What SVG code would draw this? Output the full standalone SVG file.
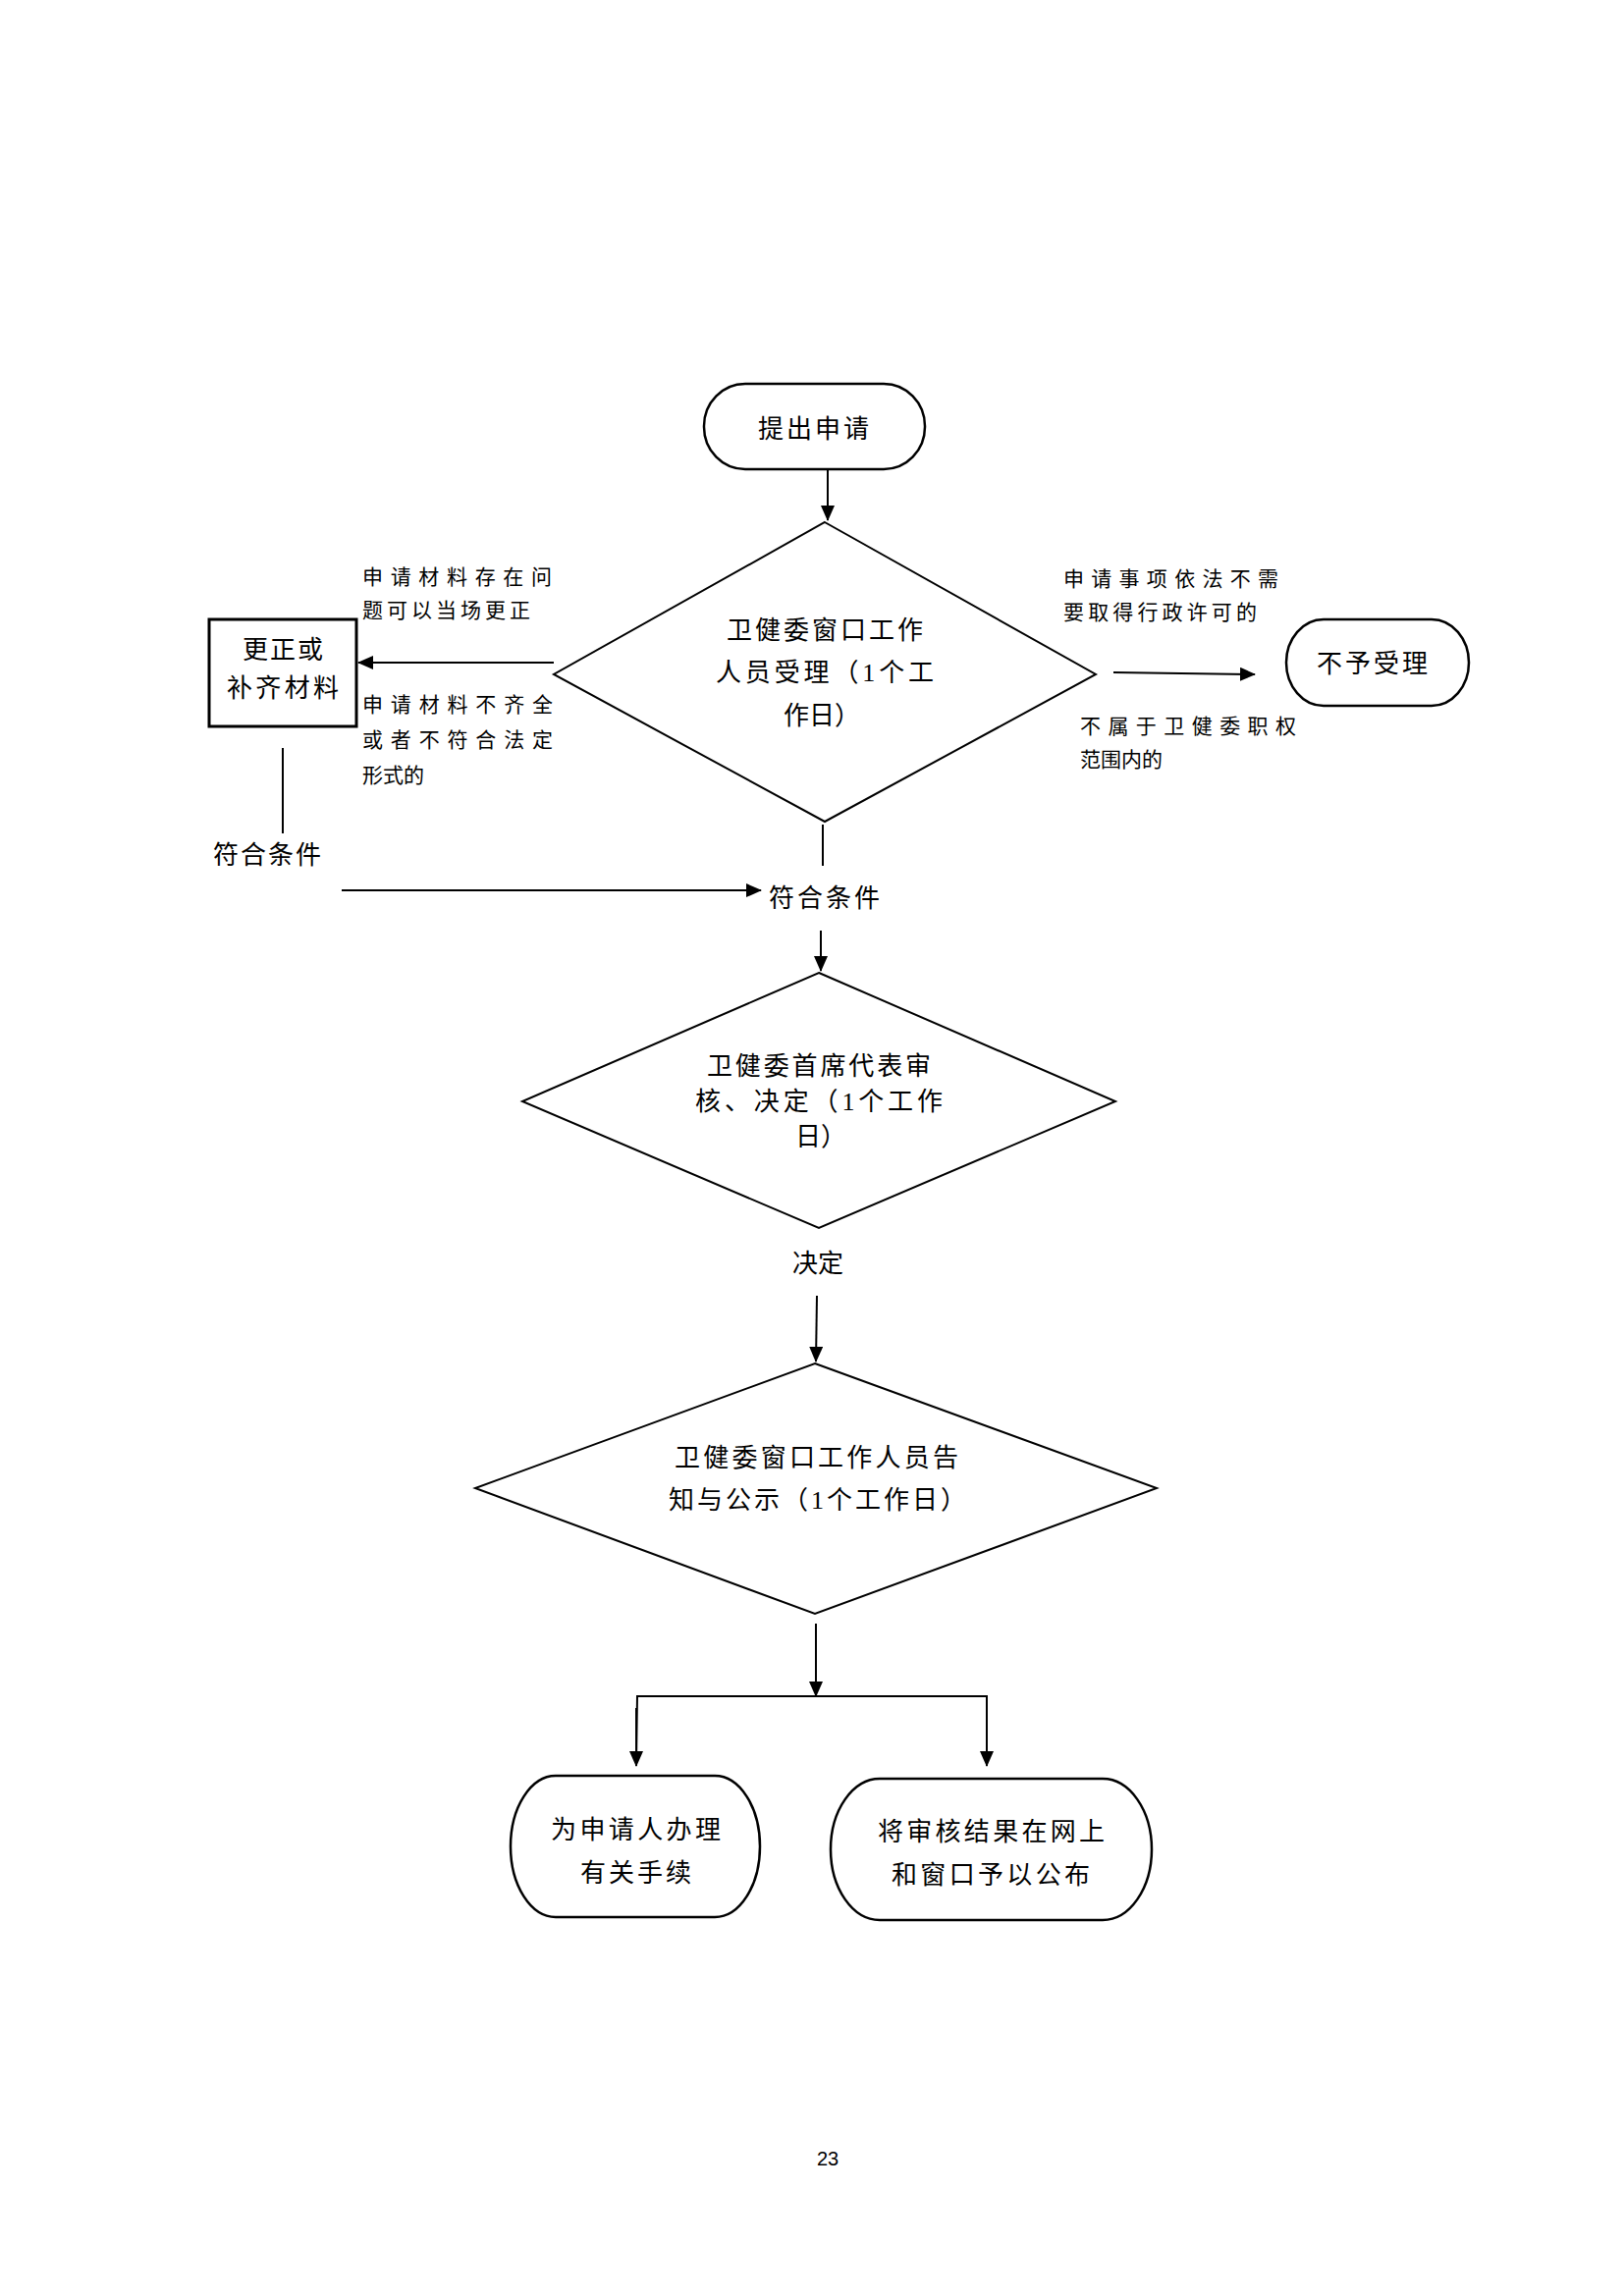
<svg xmlns="http://www.w3.org/2000/svg" width="1654" height="2339" viewBox="0 0 1654 2339">
<style>
.t{font-family:"Liberation Serif","Noto Sans CJK SC",serif;font-size:26px;fill:#000}
.s{font-family:"Liberation Serif","Noto Sans CJK SC",serif;font-size:21px;fill:#000}
.n{fill:#fff;stroke:#000;stroke-width:2}
.p{fill:#fff;stroke:#000;stroke-width:2.5}
.c{fill:none;stroke:#000;stroke-width:2}
.pg{font-family:"Liberation Sans",sans-serif;font-size:20px;fill:#000}
</style>
<defs>
<marker id="ah" markerUnits="userSpaceOnUse" markerWidth="16" markerHeight="14" refX="15" refY="7" orient="auto">
<path d="M0,0 L16,7 L0,14 Z" fill="#000"/>
</marker>
</defs>
<rect width="1654" height="2339" fill="#fff"/>

<g id="connectors">
<line class="c" x1="843" y1="478" x2="843" y2="530" marker-end="url(#ah)"/>
<line class="c" x1="564" y1="675" x2="365" y2="675" marker-end="url(#ah)"/>
<line class="c" x1="1134" y1="685" x2="1278" y2="687" marker-end="url(#ah)"/>
<line class="c" x1="288" y1="762" x2="288" y2="849"/>
<line class="c" x1="348" y1="907" x2="775" y2="907" marker-end="url(#ah)"/>
<line class="c" x1="838" y1="840" x2="838" y2="882"/>
<line class="c" x1="836" y1="948" x2="836" y2="989" marker-end="url(#ah)"/>
<line class="c" x1="832" y1="1320" x2="831" y2="1387" marker-end="url(#ah)"/>
<line class="c" x1="831" y1="1654" x2="831" y2="1728" marker-end="url(#ah)"/>
<polyline class="c" points="648,1798 649,1728 1005,1728 1005,1798"/>
<line class="c" x1="648" y1="1740" x2="648" y2="1799" marker-end="url(#ah)"/>
<line class="c" x1="1005" y1="1740" x2="1005" y2="1799" marker-end="url(#ah)"/>
<text class="s" x="369" y="595" textLength="193" lengthAdjust="spacing">申请材料存在问</text>
<text class="s" x="369" y="629" textLength="171" lengthAdjust="spacing">题可以当场更正</text>
<text class="s" x="369" y="725" textLength="194" lengthAdjust="spacing">申请材料不齐全</text>
<text class="s" x="369" y="761" textLength="194" lengthAdjust="spacing">或者不符合法定</text>
<text class="s" x="369" y="797">形式的</text>
<text class="s" x="1083" y="597" textLength="219" lengthAdjust="spacing">申请事项依法不需</text>
<text class="s" x="1083" y="631" textLength="197" lengthAdjust="spacing">要取得行政许可的</text>
<text class="s" x="1100" y="747" textLength="220" lengthAdjust="spacing">不属于卫健委职权</text>
<text class="s" x="1100" y="781">范围内的</text>
<text class="t" x="217" y="880" textLength="110" lengthAdjust="spacing">符合条件</text>
<text class="t" x="783" y="924" textLength="113" lengthAdjust="spacing">符合条件</text>
<text class="t" x="807" y="1296">决定</text>
</g>

<g id="start">
<rect class="p" x="717" y="391" width="225" height="87" rx="42" ry="43"/>
<text class="t" x="772" y="446" textLength="113" lengthAdjust="spacing">提出申请</text>
</g>

<g id="accept">
<polygon class="n" points="840,532 1116,687 840,837 564,687"/>
<text class="t" x="740" y="651" textLength="200" lengthAdjust="spacing">卫健委窗口工作</text>
<text class="t" x="729" y="694" textLength="222" lengthAdjust="spacing">人员受理（1个工</text>
<text class="t" x="798" y="738">作日）</text>
</g>

<g id="correct">
<rect x="213" y="631" width="150" height="109" fill="#fff" stroke="#000" stroke-width="3"/>
<text class="t" x="247" y="671" textLength="82" lengthAdjust="spacing">更正或</text>
<text class="t" x="231" y="710" textLength="114" lengthAdjust="spacing">补齐材料</text>
</g>

<g id="reject">
<rect class="p" x="1310" y="631" width="186" height="88" rx="38" ry="44"/>
<text class="t" x="1341" y="685" textLength="113" lengthAdjust="spacing">不予受理</text>
</g>

<g id="review">
<polygon class="n" points="834,991 1136,1122 834,1251 532,1122"/>
<text class="t" x="720" y="1095" textLength="228" lengthAdjust="spacing">卫健委首席代表审</text>
<text class="t" x="708" y="1131" textLength="252" lengthAdjust="spacing">核、决定（1个工作</text>
<text class="t" x="810" y="1167">日）</text>
</g>

<g id="notify">
<polygon class="n" points="830,1389 1178,1516 830,1644 484,1516"/>
<text class="t" x="687" y="1494" textLength="289" lengthAdjust="spacing">卫健委窗口工作人员告</text>
<text class="t" x="681" y="1537" textLength="303" lengthAdjust="spacing">知与公示（1个工作日）</text>
</g>

<g id="handle">
<rect class="p" x="520" y="1809" width="254" height="144" rx="46" ry="72"/>
<text class="t" x="561" y="1873" textLength="173" lengthAdjust="spacing">为申请人办理</text>
<text class="t" x="591" y="1917" textLength="113" lengthAdjust="spacing">有关手续</text>
</g>

<g id="publish">
<rect class="p" x="846" y="1812" width="327" height="144" rx="50" ry="72"/>
<text class="t" x="894" y="1875" textLength="231" lengthAdjust="spacing">将审核结果在网上</text>
<text class="t" x="908" y="1919" textLength="202" lengthAdjust="spacing">和窗口予以公布</text>
</g>

<text class="pg" x="843" y="2206" text-anchor="middle">23</text>
</svg>
